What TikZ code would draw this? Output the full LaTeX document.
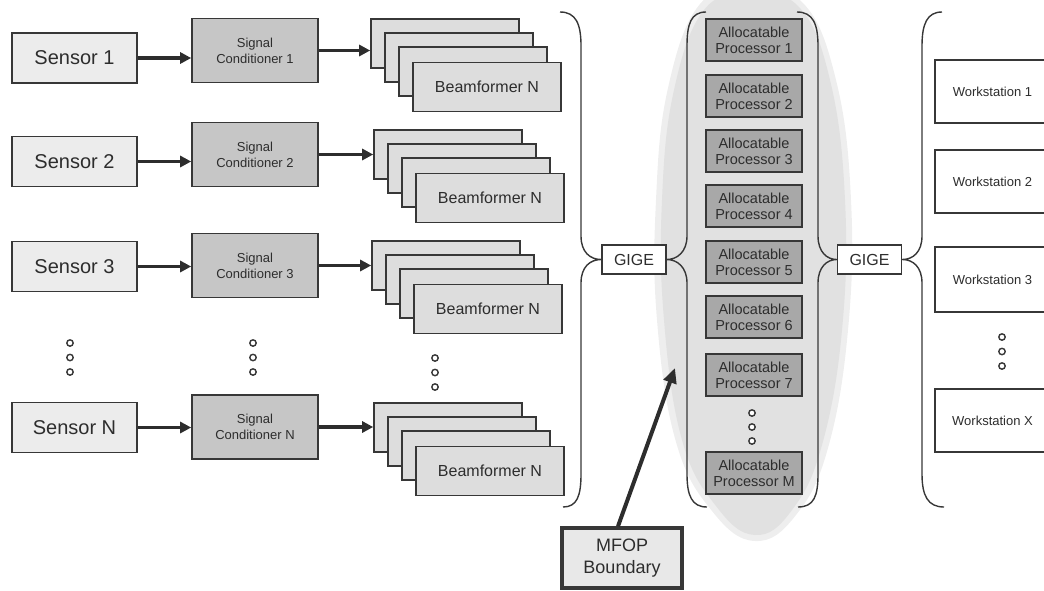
\documentclass[tikz,border=0pt]{standalone}
\usepackage{fontspec}
\setmainfont{Liberation Sans}
\usetikzlibrary{arrows.meta,calc}

\definecolor{edge}{RGB}{55,55,55}
\definecolor{ink}{RGB}{45,45,45}
\definecolor{sensorfill}{RGB}{236,236,236}
\definecolor{condfill}{RGB}{198,198,198}
\definecolor{beamfill}{RGB}{221,221,221}
\definecolor{procfill}{RGB}{168,168,168}
\definecolor{zonefill}{RGB}{225,225,225}
\definecolor{zonehalo}{RGB}{238,238,238}
\definecolor{mfopfill}{RGB}{232,232,232}

\tikzset{
  box/.style={draw=edge, line width=1.6pt, inner sep=0pt, text=ink, align=center},
  sensorbox/.style={box, fill=sensorfill, minimum width=125, minimum height=50,
    font=\fontsize{20}{22}\selectfont},
  condbox/.style={box, fill=condfill, minimum width=126, minimum height=64,
    font=\fontsize{13}{16}\selectfont},
  beambox/.style={box, fill=beamfill, minimum width=148, minimum height=49,
    font=\fontsize{16}{18}\selectfont},
  procbox/.style={box, fill=procfill, minimum width=96, minimum height=42,
    font=\fontsize{14.5}{16}\selectfont},
  wsbox/.style={box, fill=white, minimum width=115, minimum height=63,
    font=\fontsize{13}{16}\selectfont},
  gigebox/.style={box, fill=white, minimum width=64, minimum height=29,
    font=\fontsize{16}{18}\selectfont},
  mfopbox/.style={box, fill=mfopfill, line width=3.5pt, minimum width=120, minimum height=60,
    font=\fontsize{18}{22}\selectfont},
  flow/.style={draw=ink, line width=3.2pt, -{Triangle[length=11pt,width=11pt]}},
  pointer/.style={draw=ink, line width=4pt, -{Triangle[length=15pt,width=13pt]}},
  brace/.style={draw=edge, line width=1.4pt},
  dot/.style={draw=edge, line width=1.4pt, fill=white},
}

\begin{document}
\begin{tikzpicture}[x=1pt, y=-1pt]
\useasboundingbox (0,0) rectangle (1044,590);

% shaded zone around the processor pool, with a lighter rim
\fill[zonehalo] plot[smooth cycle, tension=0.7] coordinates {
  (748,-8) (802,2) (836,80) (851,200) (848,330) (828,448) (796,515) (755,541)
  (712,511) (676,442) (657,320) (656,200) (668,88) (700,4)};
\fill[zonefill] plot[smooth cycle, tension=0.7] coordinates {
  (748,-4) (798,6) (830,80) (845,200) (842,330) (822,445) (792,510) (755,535)
  (716,506) (682,440) (664,320) (662,200) (674,90) (704,10)};

% sensors
\node[sensorbox] (s1) at (74.5,58)    {Sensor 1};
\node[sensorbox] (s2) at (74.5,161.5) {Sensor 2};
\node[sensorbox] (s3) at (74.5,266.5) {Sensor 3};
\node[sensorbox] (sN) at (74.5,427.5) {Sensor N};

% signal conditioners
\node[condbox] (c1) at (255,50.5)  {Signal\\Conditioner 1};
\node[condbox] (c2) at (255,154.5) {Signal\\Conditioner 2};
\node[condbox] (c3) at (255,265.5) {Signal\\Conditioner 3};
\node[condbox] (cN) at (255,427)   {Signal\\Conditioner N};

% beamformer stacks (four cards each)
\foreach \r/\bx/\by in {1/371/19, 2/374/130, 3/372/241, N/374/403} {
  \foreach \k in {0,1,2} {
    \node[beambox] (b\r-\k) at ({\bx+74+14*\k},{\by+24.5+14*\k}) {};
  }
  \node[beambox] (b\r-3) at ({\bx+74+42},{\by+26+42}) {Beamformer N};
}

% sensor -> conditioner -> beamformer
\foreach \r in {1,2,3,N} {
  \draw[flow] (s\r.east) -- (s\r.east -| c\r.west);
  \draw[flow] (c\r.east) -- (c\r.east -| b\r-0.west);
}

% ellipsis dots in the sensor chains
\foreach \x/\y in {70/343, 253/343, 435/358} {
  \foreach \j in {0,1,2} \draw[dot] (\x,{\y+14.5*\j}) circle (3.2);
}

% network switches
\node[gigebox] (g1) at (634,259.5)   {GIGE};
\node[gigebox] (g2) at (869.5,259.5) {GIGE};

% brace gathering the beamformers into the first switch
\draw[brace] (560,12) .. controls (576,12) and (581,24) .. (581,46) -- (581,236)
  .. controls (581,252) and (590,259.5) .. (g1.west)
  .. controls (590,259.5) and (581,267) .. (581,283) -- (581,474)
  .. controls (581,496) and (577,507) .. (563,507);
% braces around the processor pool
\draw[brace] (706,12) .. controls (691,12) and (687,24) .. (687,46) -- (687,236)
  .. controls (687,252) and (677,259.5) .. (g1.east)
  .. controls (677,259.5) and (687,267) .. (687,283) -- (687,474)
  .. controls (687,496) and (692,507) .. (707,507);
\draw[brace] (797,12) .. controls (813,12) and (818,24) .. (818,46) -- (818,236)
  .. controls (818,252) and (827,259.5) .. (g2.west)
  .. controls (827,259.5) and (818,267) .. (818,283) -- (818,474)
  .. controls (818,496) and (814,507) .. (798,507);
% brace fanning out to the workstations
\draw[brace] (942,12) .. controls (927,12) and (922,24) .. (922,46) -- (922,236)
  .. controls (922,252) and (913,259.5) .. (g2.east)
  .. controls (913,259.5) and (922,267) .. (922,283) -- (922,474)
  .. controls (922,496) and (928,507) .. (944,507);

% allocatable processors
\foreach \i/\t in {1/19, 2/75, 3/130, 4/185, 5/241, 6/296, 7/354, M/452} {
  \node[procbox] (p\i) at (754,{\t+21}) {Allocatable\\Processor \i};
}
\foreach \j in {0,1,2} \draw[dot] (752,{413+14*\j}) circle (3.2);

% workstations
\node[wsbox] (w1) at (992.5,91.5)  {Workstation 1};
\node[wsbox] (w2) at (992.5,181.5) {Workstation 2};
\node[wsbox, minimum height=65] (w3) at (992.5,279.5) {Workstation 3};
\node[wsbox] (wX) at (992.5,420.5) {Workstation X};
\foreach \j in {0,1,2} \draw[dot] (1002,{337+14.5*\j}) circle (3.2);

% boundary label and its pointer
\node[mfopbox] (mfop) at (622,558) {MFOP\\Boundary};
\coordinate (zone) at (675,368);
\draw[pointer] ($(mfop.north)+(-4,0)$) -- (zone);
\end{tikzpicture}
\end{document}
